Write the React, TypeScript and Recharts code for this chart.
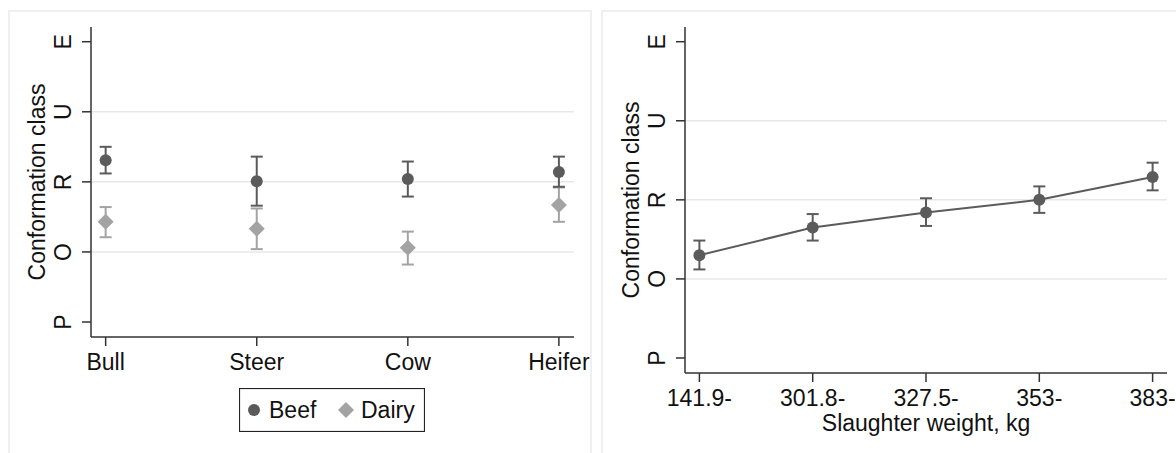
import React from 'react';
import {
  ComposedChart,
  Scatter,
  Line,
  XAxis,
  YAxis,
  ErrorBar,
  ReferenceLine,
  Legend,
} from 'recharts';

// conformation classes on a 1..5 scale
const classLabels = ['P', 'O', 'R', 'U', 'E'];
const classTicks = [1, 2, 3, 4, 5];
const gridClasses = [2, 3, 4];

// left panel: animal category
const categories = ['Bull', 'Steer', 'Cow', 'Heifer'];
const beefMean = [3.31, 3.01, 3.04, 3.14];
const beefLow = [3.12, 2.66, 2.79, 2.93];
const beefHigh = [3.5, 3.36, 3.29, 3.36];
const dairyMean = [2.43, 2.33, 2.06, 2.67];
const dairyLow = [2.21, 2.04, 1.82, 2.43];
const dairyHigh = [2.64, 2.62, 2.29, 2.92];
const seriesNames = ['Beef', 'Dairy'];

// right panel: slaughter weight band
const weightBands = ['141.9-', '301.8-', '327.5-', '353-', '383-'];
const weightMean = [2.3, 2.65, 2.84, 3.0, 3.29];
const weightLow = [2.12, 2.485, 2.67, 2.835, 3.12];
const weightHigh = [2.485, 2.82, 3.02, 3.17, 3.47];

const FONT = '"Liberation Sans", Arial, Helvetica, sans-serif';
const FS = 23;
const DARK = '#5b5b5b';
const LIGHT = '#a3a3a3';
const AXIS = '#333333';
const GRID = '#e8e8e8';

const categoryData = categories.map((c, i) => ({
  x: i,
  beef: beefMean[i],
  beefErr: [beefMean[i] - beefLow[i], beefHigh[i] - beefMean[i]],
  dairy: dairyMean[i],
  dairyErr: [dairyMean[i] - dairyLow[i], dairyHigh[i] - dairyMean[i]],
}));

const weightData = weightBands.map((b, i) => ({
  x: i,
  conf: weightMean[i],
  confErr: [weightMean[i] - weightLow[i], weightHigh[i] - weightMean[i]],
}));

const LetterTick = (props: any) => {
  const { x, y, payload } = props;
  const label = classLabels[classTicks.indexOf(payload.value)];
  return (
    <text
      x={x}
      y={y}
      transform={`rotate(-90 ${x} ${y})`}
      textAnchor="middle"
      fontSize={FS}
      fontFamily={FONT}
      fill="#111"
    >
      {label}
    </text>
  );
};

const YTitle = (props: any) => {
  const { viewBox } = props;
  const x = viewBox.x + 14;
  const y = viewBox.y + viewBox.height / 2;
  return (
    <text
      x={x}
      y={y}
      transform={`rotate(-90 ${x} ${y})`}
      textAnchor="middle"
      fontSize={FS}
      fontFamily={FONT}
      fill="#111"
    >
      Conformation class
    </text>
  );
};

const Dot = (props: any) => {
  const { cx, cy, index } = props;
  if (cx == null || cy == null) return null;
  return <circle key={index} cx={cx} cy={cy} r={6} fill={DARK} />;
};

const Diamond = (props: any) => {
  const { cx, cy } = props;
  const d = 8;
  return <path d={`M${cx},${cy - d}L${cx + d},${cy}L${cx},${cy + d}L${cx - d},${cy}Z`} fill={LIGHT} />;
};

const LegendBox = () => (
  <svg width={186} height={44} style={{ display: 'block' }}>
    <rect x={0.5} y={0.5} width={185} height={43} fill="#fff" stroke="#222" strokeWidth={1.2} />
    <circle cx={15} cy={22} r={6} fill={DARK} />
    <text x={30} y={30} fontSize={FS} fontFamily={FONT} fill="#111">
      {seriesNames[0]}
    </text>
    <path d="M107,14L115,22L107,30L99,22Z" fill={LIGHT} />
    <text x={122} y={30} fontSize={FS} fontFamily={FONT} fill="#111">
      {seriesNames[1]}
    </text>
  </svg>
);

const tickStyle = { fontSize: FS, fill: '#111', fontFamily: FONT };

const ConformationByCategory = () => (
  <ComposedChart
    width={600}
    height={453}
    data={categoryData}
    margin={{ top: 27, right: 26, left: 31, bottom: 86 }}
  >
    {gridClasses.map((v) => (
      <ReferenceLine key={v} y={v} stroke={GRID} strokeWidth={1.5} />
    ))}
    <XAxis
      dataKey="x"
      type="number"
      domain={[-0.097, 3.1]}
      ticks={[0, 1, 2, 3]}
      tickFormatter={(i: number) => categories[i]}
      allowDataOverflow
      height={30}
      tickSize={9}
      tickMargin={8}
      stroke={AXIS}
      strokeWidth={1.5}
      tick={tickStyle}
      interval={0}
    />
    <YAxis
      type="number"
      domain={[0.786, 5.21]}
      ticks={classTicks}
      allowDataOverflow
      width={60}
      tickSize={9}
      tickMargin={11}
      stroke={AXIS}
      strokeWidth={1.5}
      tick={<LetterTick />}
      interval={0}
      label={<YTitle />}
    />
    <Legend
      layout="horizontal"
      verticalAlign="middle"
      align="center"
      wrapperStyle={{ left: 239, top: 388, width: 186, height: 44 }}
      content={() => <LegendBox />}
    />
    <Scatter name={seriesNames[1]} dataKey="dairy" shape={<Diamond />} isAnimationActive={false}>
      <ErrorBar dataKey="dairyErr" direction="y" width={6} stroke={LIGHT} strokeWidth={2} isAnimationActive={false} />
    </Scatter>
    <Scatter name={seriesNames[0]} dataKey="beef" shape={<Dot />} isAnimationActive={false}>
      <ErrorBar dataKey="beefErr" direction="y" width={6} stroke={DARK} strokeWidth={2} isAnimationActive={false} />
    </Scatter>
  </ComposedChart>
);

const ConformationByWeight = () => (
  <ComposedChart
    width={576}
    height={453}
    data={weightData}
    margin={{ top: 27, right: 9, left: 25, bottom: 22 }}
  >
    {gridClasses.map((v) => (
      <ReferenceLine key={v} y={v} stroke={GRID} strokeWidth={1.5} />
    ))}
    <XAxis
      dataKey="x"
      type="number"
      domain={[-0.127, 4.127]}
      ticks={[0, 1, 2, 3, 4]}
      tickFormatter={(i: number) => weightBands[i]}
      allowDataOverflow
      height={58}
      tickSize={9}
      tickMargin={8}
      stroke={AXIS}
      strokeWidth={1.5}
      tick={tickStyle}
      interval={0}
      label={{
        value: 'Slaughter weight, kg',
        position: 'insideBottom',
        offset: 0,
        fontSize: FS,
        fill: '#111',
        fontFamily: FONT,
      }}
    />
    <YAxis
      type="number"
      domain={[0.81, 5.186]}
      ticks={classTicks}
      allowDataOverflow
      width={60}
      tickSize={9}
      tickMargin={11}
      stroke={AXIS}
      strokeWidth={1.5}
      tick={<LetterTick />}
      interval={0}
      label={<YTitle />}
    />
    <Line
      dataKey="conf"
      type="linear"
      stroke={DARK}
      strokeWidth={2}
      dot={<Dot />}
      activeDot={false}
      isAnimationActive={false}
    >
      <ErrorBar dataKey="confErr" direction="y" width={6} stroke={DARK} strokeWidth={2} isAnimationActive={false} />
    </Line>
  </ComposedChart>
);

export default function App() {
  return (
    <div
      style={{
        position: 'absolute',
        left: 0,
        top: 0,
        width: 1176,
        height: 453,
        background: '#fff',
        overflow: 'hidden',
        fontFamily: FONT,
      }}
    >
      <div style={{ position: 'absolute', left: 8, top: 10, width: 580, height: 460, border: '2px solid #efefef' }} />
      <div style={{ position: 'absolute', left: 601, top: 10, width: 600, height: 460, border: '2px solid #efefef' }} />
      <div style={{ position: 'absolute', left: 0, top: 0 }}>
        <ConformationByCategory />
      </div>
      <div style={{ position: 'absolute', left: 600, top: 0 }}>
        <ConformationByWeight />
      </div>
    </div>
  );
}
